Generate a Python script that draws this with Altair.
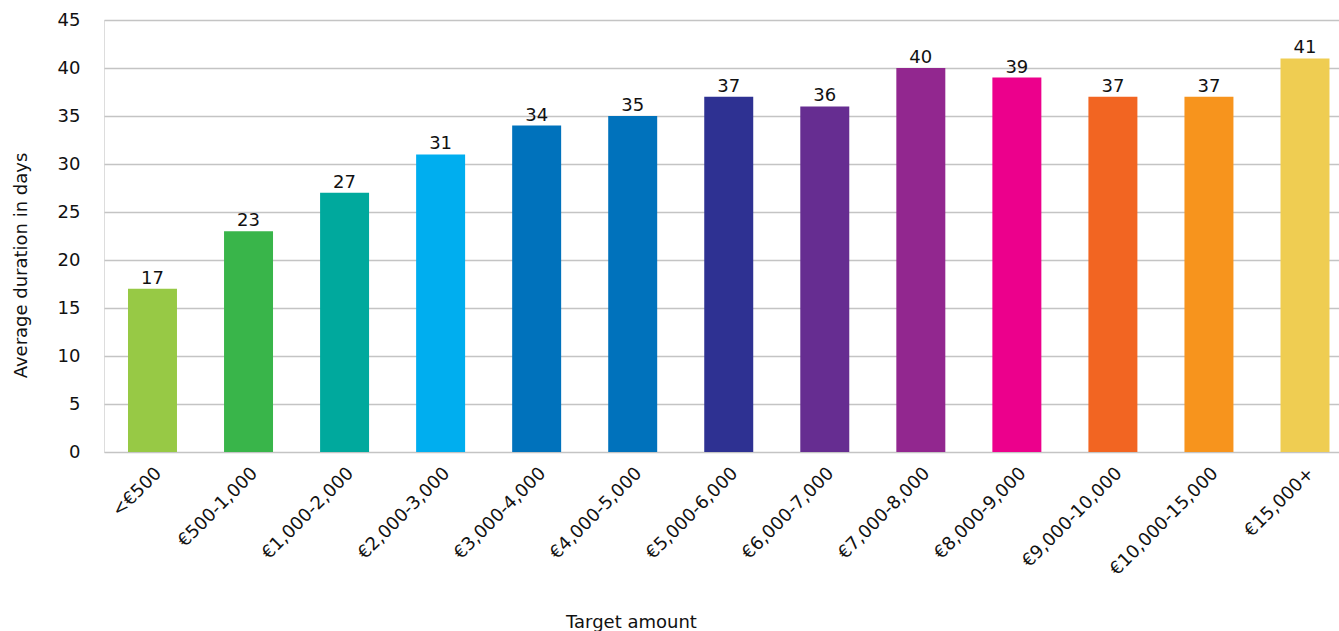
import altair as alt
import pandas as pd

categories = ["<€500", "€500-1,000", "€1,000-2,000", "€2,000-3,000", "€3,000-4,000",
              "€4,000-5,000", "€5,000-6,000", "€6,000-7,000", "€7,000-8,000",
              "€8,000-9,000", "€9,000-10,000", "€10,000-15,000", "€15,000+"]
values = [17, 23, 27, 31, 34, 35, 37, 36, 40, 39, 37, 37, 41]
colors = ["#97C945", "#39B54A", "#00A99D", "#00AEEF", "#0072BC", "#0072BC",
          "#2E3192", "#662D91", "#92278F", "#EC008C", "#F26522", "#F7941D", "#EFCD52"]

df = pd.DataFrame({"cat": categories, "val": values, "color": colors})

FONT = "DejaVu Sans"
FS = 18
TXT = "#111111"

x = alt.X("cat:N", sort=categories,
          scale=alt.Scale(paddingInner=0.49, paddingOuter=0.1745, align=0.716),
          axis=alt.Axis(title="Target amount", labelAngle=-45, labelFontSize=FS,
                        labelColor=TXT, labelFont=FONT, ticks=False, domain=False,
                        labelPadding=12, titleFontSize=FS, titleFontWeight="normal",
                        titleFont=FONT, titleColor=TXT,
                        titleX=527, titleY=175, titleBaseline="alphabetic",
                        titleAnchor="middle", titleAlign="center"))
y = alt.Y("val:Q", scale=alt.Scale(domain=[0, 45]),
          axis=alt.Axis(title="Average duration in days", values=list(range(0, 50, 5)),
                        labelFontSize=FS, labelFont=FONT, labelColor=TXT,
                        labelPadding=24, ticks=False, domain=False,
                        gridColor="#C4C4C4", gridWidth=1.6,
                        titleFontSize=FS, titleFontWeight="normal", titleFont=FONT,
                        titleColor=TXT, titleX=-78, titleY=245,
                        titleAlign="center", titleBaseline="alphabetic"))

bars = alt.Chart(df).mark_bar().encode(
    x=x, y=y, color=alt.Color("color:N", scale=None)
)
text = alt.Chart(df).mark_text(dy=-5, baseline="alphabetic", fontSize=FS, font=FONT,
                               color=TXT).encode(
    x=alt.X("cat:N", sort=categories), y="val:Q", text="val:Q"
)

chart = (bars + text).properties(
    width=1235, height=432,
    autosize=alt.AutoSizeParams(type="none"),
    padding={"left": 104, "top": 20, "right": 0, "bottom": 179},
).configure_view(stroke=None).configure(background="white")

chart.save("out.html", embed_options={"renderer": "svg", "actions": False})
